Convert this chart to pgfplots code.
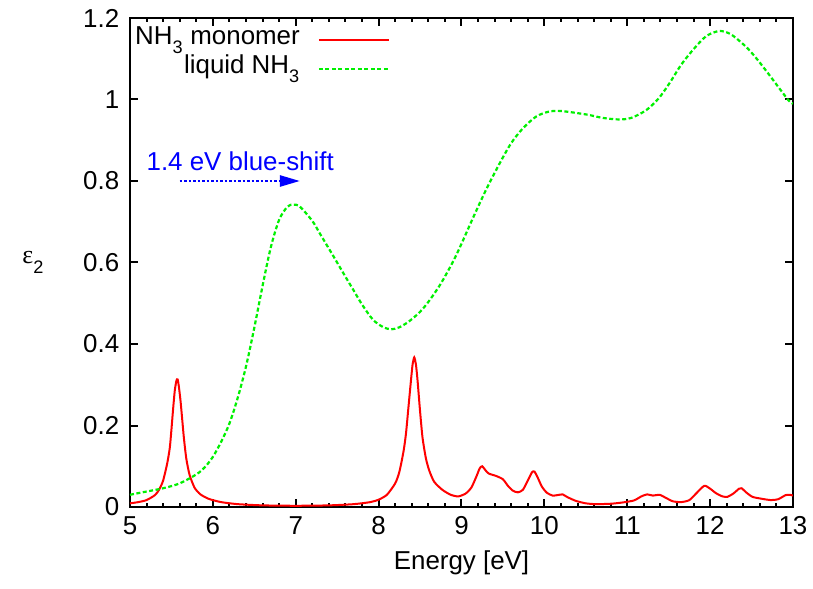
\documentclass[border=0pt]{standalone}
\usepackage{fontspec}
\setmainfont{Liberation Sans}[Scale=2.6]
\newfontfamily\grk{Liberation Serif}[Scale=2.6]
\usepackage{pgfplots}
\pgfplotsset{compat=1.18}
\usetikzlibrary{arrows.meta}
\definecolor{gpred}{RGB}{255,0,0}
\definecolor{gpgreen}{RGB}{0,240,0}
\definecolor{gpblue}{RGB}{0,0,255}
\pgfplotstableread{
x y
5.0 0.009
5.1 0.012
5.2 0.017
5.3 0.029
5.35 0.042
5.4 0.065
5.45 0.108
5.48 0.145
5.5 0.19
5.52 0.24
5.54 0.285
5.56 0.31
5.575 0.313
5.59 0.295
5.61 0.26
5.63 0.215
5.65 0.17
5.68 0.118
5.72 0.078
5.78 0.047
5.85 0.031
5.95 0.020
6.1 0.012
6.3 0.007
6.6 0.004
7.0 0.003
7.4 0.004
7.7 0.007
7.9 0.012
8.0 0.018
8.1 0.030
8.2 0.058
8.25 0.086
8.3 0.136
8.33 0.18
8.36 0.245
8.39 0.31
8.41 0.35
8.43 0.367
8.45 0.35
8.47 0.31
8.50 0.235
8.53 0.17
8.57 0.12
8.61 0.09
8.67 0.062
8.77 0.042
8.87 0.03
8.96 0.026
9.05 0.033
9.12 0.048
9.18 0.075
9.22 0.095
9.25 0.100
9.29 0.09
9.33 0.082
9.42 0.076
9.5 0.068
9.56 0.052
9.62 0.040
9.68 0.036
9.74 0.042
9.80 0.065
9.85 0.085
9.88 0.087
9.92 0.072
9.97 0.05
10.03 0.035
10.1 0.028
10.18 0.030
10.22 0.031
10.28 0.024
10.38 0.015
10.5 0.009
10.62 0.007
10.8 0.008
10.94 0.011
11.08 0.016
11.17 0.026
11.24 0.031
11.31 0.028
11.39 0.030
11.47 0.022
11.55 0.014
11.65 0.012
11.75 0.017
11.84 0.035
11.93 0.052
12.0 0.045
12.07 0.034
12.15 0.026
12.21 0.025
12.28 0.033
12.35 0.045
12.38 0.046
12.44 0.035
12.51 0.025
12.6 0.021
12.73 0.017
12.82 0.019
12.91 0.029
12.96 0.030
13.0 0.028
}\monomer
\pgfplotstableread{
x y
5.0 0.030
5.2 0.038
5.4 0.046
5.6 0.058
5.8 0.080
5.9 0.097
6.0 0.123
6.1 0.160
6.2 0.205
6.3 0.268
6.4 0.345
6.5 0.440
6.6 0.543
6.7 0.638
6.8 0.705
6.9 0.737
6.97 0.742
7.05 0.737
7.2 0.702
7.3 0.668
7.45 0.617
7.6 0.565
7.7 0.531
7.8 0.497
7.93 0.460
8.05 0.442
8.15 0.436
8.25 0.441
8.37 0.456
8.5 0.479
8.61 0.506
8.75 0.548
8.9 0.603
9.0 0.646
9.14 0.710
9.3 0.78
9.46 0.843
9.6 0.893
9.74 0.929
9.9 0.958
10.05 0.970
10.18 0.972
10.35 0.968
10.54 0.962
10.7 0.955
10.9 0.951
11.05 0.955
11.23 0.974
11.38 1.003
11.51 1.04
11.65 1.085
11.79 1.121
11.95 1.155
12.11 1.168
12.25 1.160
12.43 1.13
12.55 1.103
12.67 1.072
12.8 1.037
12.95 0.997
13.0 0.990
}\liquid
\begin{document}
\begin{tikzpicture}
\useasboundingbox (-130bp,-82bp) rectangle (683bp,507bp);
\begin{axis}[
  at={(0,0)}, anchor=south west,
  scale only axis, width=663bp, height=489bp,
  xmin=5, xmax=13, ymin=0, ymax=1.2,
  xtick={5,6,7,8,9,10,11,12,13},
  ytick={0,0.2,0.4,0.6,0.8,1,1.2},
  minor x tick num=4,
  tick align=inside,
  major tick length=8bp, minor tick length=4bp,
  every major tick/.append style={line width=2bp, black},
  every minor tick/.append style={line width=2bp, black},
  axis line style={line width=2.5bp},
  /pgf/number format/assume math mode=true,
  yticklabel style={xshift=-2bp},
  xticklabel style={yshift=-1bp},
  xlabel={Energy [eV]},
  xlabel style={yshift=2bp},
  ylabel={{\grk ε}\textsubscript{2}},
  ylabel style={rotate=-90, at={(axis description cs:-0.146,0.5)}, anchor=center},
  legend style={at={(0,1)}, anchor=north west, draw=none, fill=none,
    column sep=16bp, row sep=0bp, inner sep=1bp, xshift=2bp, yshift=-6bp,
    nodes={text height=17bp, text depth=8bp}},
  legend cell align=right,
  legend plot pos=right,
  legend image code/.code={\draw[#1] (0bp,0bp) -- (70bp,0bp);},
]
\addplot[gpred, line width=2bp, smooth, tension=0.4] table {\monomer};
\addlegendentry{NH\textsubscript{3} monomer}
\addplot[gpgreen, line width=2.2bp, dash pattern=on 4bp off 2.5bp, smooth] table {\liquid};
\addlegendentry{liquid NH\textsubscript{3}}
\draw[gpblue, line width=2.5bp, dotted, -{Triangle[length=20bp,width=11bp]}]
  (axis cs:5.6,0.8) -- (axis cs:7.05,0.8);
\node[gpblue] at (axis cs:6.33,0.848) {1.4 eV blue-shift};
\end{axis}
\end{tikzpicture}
\end{document}
